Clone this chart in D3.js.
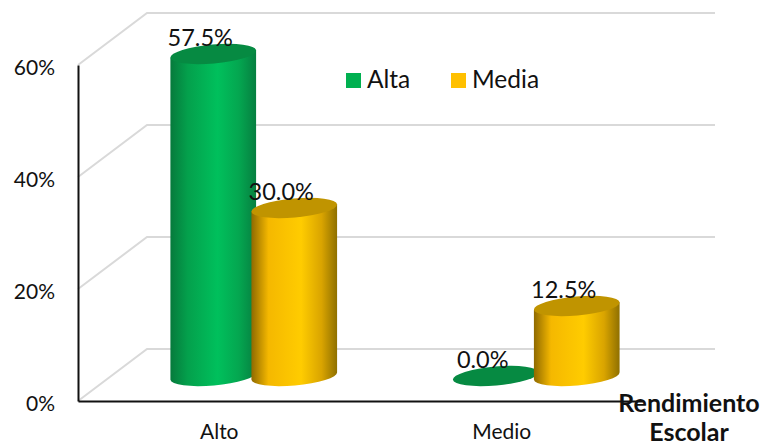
<!DOCTYPE html>
<html>
<head>
<meta charset="utf-8">
<script src="https://cdn.jsdelivr.net/npm/d3@7"></script>
<style>
  html, body { margin: 0; padding: 0; background: #fff; }
  svg { display: block; }
  text { font-family: Lato, "Noto Sans", sans-serif; fill: #111; }
</style>
</head>
<body>
<div id="chart"></div>
<script>
// values
var categories = ["Alto", "Medio"];
var seriesNames = ["Alta", "Media"];
var alta = [57.5, 0.0];
var media = [30.0, 12.5];
var yTicks = [0, 20, 40, 60];

var width = 762, height = 448;

var svg = d3.select("#chart")
  .append("svg")
    .attr("width", width)
    .attr("height", height);

// front edge of the box
var x = d3.scaleBand().domain(categories).range([78, 643]);
var y = d3.scaleLinear().domain([0, 60]).range([401, 65]);

// bars sit in the middle of the depth, back wall is twice as far
var depthX = 34.5, depthY = -25;
var backX = 69, backY = -52;

var inner = d3.scaleBand().domain(seriesNames).range([-81, 81]);

var rx = 43, ry = 9.5, tilt = -5;
var ex = rx * Math.cos(tilt * Math.PI / 180), ey = rx * Math.sin(tilt * Math.PI / 180);

var colors = d3.scaleOrdinal().domain(seriesNames).range(["#00b050", "#ffc000"]);
var topColors = d3.scaleOrdinal().domain(seriesNames).range(["#068a42", "#c09400"]);

// side shading of the cylinders
var defs = svg.append("defs");
var stops = {
  Alta: [[0, "#067a3c"], [0.2, "#04a04c"], [0.55, "#00c05c"], [0.8, "#04a650"], [1, "#067f40"]],
  Media: [[0, "#8f6a00"], [0.2, "#f5b800"], [0.58, "#ffcc00"], [0.82, "#d9a400"], [1, "#8f7000"]]
};
seriesNames.forEach(function(name) {
  defs.append("linearGradient")
      .attr("id", "grad" + name)
    .selectAll("stop")
    .data(stops[name])
    .enter()
    .append("stop")
      .attr("offset", function(d) { return d[0]; })
      .attr("stop-color", function(d) { return d[1]; });
});

// walls and gridlines
var grid = svg.append("g")
  .attr("fill", "none")
  .attr("stroke", "#d9d9d9")
  .attr("stroke-width", 2);
grid.selectAll("path")
  .data(yTicks)
  .enter()
  .append("path")
    .attr("d", function(d) {
      return d3.line()([[78, y(d)], [78 + backX, y(d) + backY], [715, y(d) + backY]]);
    });

// axes
var yAxis = svg.append("g")
  .attr("transform", "translate(78,0)")
  .call(d3.axisLeft(y).tickValues(yTicks).tickSize(0).tickPadding(23)
    .tickFormat(function(d) { return d + "%"; }));
yAxis.select(".domain").attr("stroke", "#111").attr("stroke-width", 2);
yAxis.selectAll("text").attr("font-size", 21).attr("dy", "0.62em").attr("y", -4);

var xAxis = svg.append("g")
  .attr("transform", "translate(0,401)")
  .call(d3.axisBottom(x).tickSize(0).tickPadding(23));
xAxis.select(".domain").attr("stroke", "#111").attr("stroke-width", 2);
xAxis.selectAll("text").attr("font-size", 21);

// flatten to one row per bar
var rows = [];
categories.forEach(function(c, i) {
  rows.push({cat: c, name: "Alta", value: alta[i]});
  rows.push({cat: c, name: "Media", value: media[i]});
});
function cx(d) { return x(d.cat) + x.bandwidth() / 2 + depthX + inner(d.name) + inner.bandwidth() / 2; }
function cy(v) { return y(v) + depthY; }

var bars = svg.append("g").selectAll("g")
  .data(rows)
  .enter()
  .append("g");

bars.filter(function(d) { return d.value > 0; })
  .append("path")
    .attr("fill", function(d) { return "url(#grad" + d.name + ")"; })
    .attr("d", function(d) {
      var c = cx(d), t = cy(d.value), b = cy(0);
      return "M" + (c - ex) + "," + (t - ey) +
        "L" + (c - ex) + "," + (b - ey) +
        "A" + rx + "," + ry + " " + tilt + " 0 0 " + (c + ex) + "," + (b + ey) +
        "L" + (c + ex) + "," + (t + ey) + "Z";
    });

bars.append("ellipse")
    .attr("rx", rx)
    .attr("ry", ry)
    .attr("fill", function(d) { return topColors(d.name); })
    .attr("transform", function(d) {
      return "translate(" + cx(d) + "," + cy(d.value) + ") rotate(" + tilt + ")";
    });

// value labels go over everything
svg.append("g").selectAll("text")
  .data(rows)
  .enter()
  .append("text")
    .attr("x", function(d) { return cx(d) - 13; })
    .attr("y", function(d) { return cy(d.value) - 8; })
    .attr("text-anchor", "middle")
    .attr("font-size", 23.5)
    .text(function(d) { return d.value.toFixed(1) + "%"; });

// legend
var legendX = d3.scaleOrdinal().domain(seriesNames).range([346, 451]);
var legend = svg.append("g").selectAll("g")
  .data(seriesNames)
  .enter()
  .append("g")
    .attr("transform", function(d) { return "translate(" + legendX(d) + ",73)"; });
legend.append("rect")
    .attr("width", 15)
    .attr("height", 15)
    .attr("fill", function(d) { return colors(d); });
legend.append("text")
    .attr("x", 21)
    .attr("y", 15)
    .attr("font-size", 24.5)
    .text(function(d) { return d; });

// axis title
svg.append("text")
    .attr("text-anchor", "middle")
    .attr("font-size", 25)
    .attr("font-weight", "bold")
  .selectAll("tspan")
  .data(["Rendimiento", "Escolar"])
  .enter()
  .append("tspan")
    .attr("x", 689)
    .attr("y", function(d, i) { return 412 + i * 29; })
    .text(function(d) { return d; });
</script>
</body>
</html>
